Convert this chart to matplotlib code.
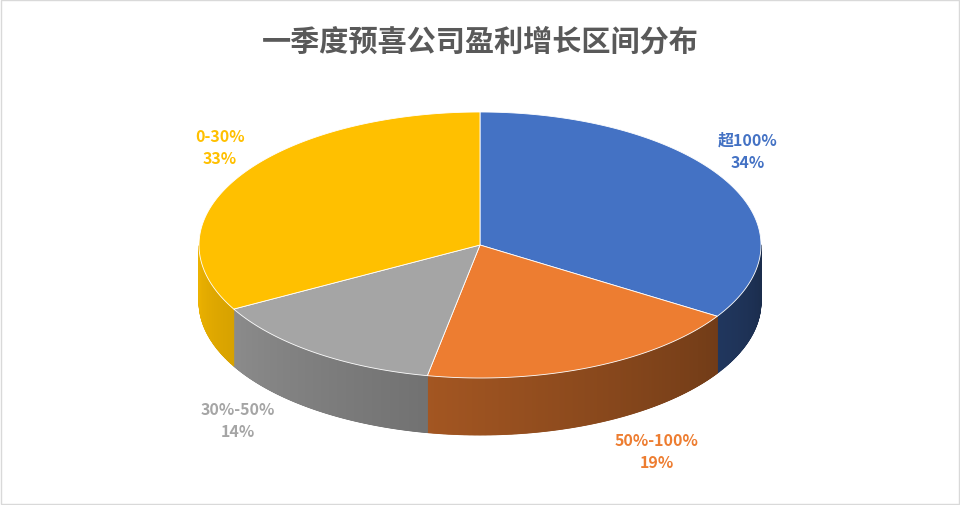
import numpy as np
import matplotlib.pyplot as plt
from matplotlib.patches import Polygon, Rectangle
from matplotlib.colors import to_rgb

plt.rcParams['font.family'] = ['Noto Sans CJK SC', 'DejaVu Sans']

title = "一季度预喜公司盈利增长区间分布"
categories = ["超100%", "50%-100%", "30%-50%", "0-30%"]
values = [34, 19, 14, 33]
colors = ["#4472C4", "#ED7D31", "#A5A5A5", "#FFC000"]
label_colors = ["#4472C4", "#ED7D31", "#A5A5A5", "#FFC000"]

W, H = 960, 506
fig = plt.figure(figsize=(9.6, 5.06), dpi=100)
ax = fig.add_axes([0, 0, 1, 1])
ax.set_xlim(0, W); ax.set_ylim(H, 0); ax.axis('off')
ax.add_patch(Rectangle((1, 1), W - 2, H - 2, fill=False, ec="#d9d9d9", lw=1))

cx, cy, rx, ry, depth = 480, 246, 281, 133, 57

def pt(t):
    r = np.radians(t)
    return cx + rx * np.cos(r), cy - ry * np.sin(r)

fr = np.array(values, float) / sum(values)
bounds = 90 - 360 * np.concatenate([[0], np.cumsum(fr)])

def shade(c, t):
    f = 0.38 + 0.55 * (-t / 180.0)
    return tuple(min(1, v * f) for v in to_rgb(c))

# side walls
for i, c in enumerate(colors):
    ts = np.linspace(bounds[i], bounds[i + 1], 400)
    for k in range(len(ts) - 1):
        lo, hi = ts[k + 1], ts[k]
        l = ((lo + 180) % 360) - 180
        h = l + (hi - lo)
        if not (l < 0 and h > -180):
            continue
        m = (l + h) / 2
        p1, p2 = pt(lo), pt(hi)
        poly = [p1, p2, (p2[0], p2[1] + depth), (p1[0], p1[1] + depth)]
        col = shade(c, m)
        ax.add_patch(Polygon(poly, closed=True, fc=col, ec=col, lw=0.6, zorder=1))

# top wedges
for i, c in enumerate(colors):
    ts = np.linspace(bounds[i], bounds[i + 1], 200)
    pts = [(cx, cy)] + [pt(t) for t in ts]
    ax.add_patch(Polygon(pts, closed=True, fc=c, ec="white", lw=0.6, zorder=2))

label_pos = [(748, 152), (657, 452), (238, 421), (220, 148)]
for (x, y), name, v, lc in zip(label_pos, categories, values, label_colors):
    ax.text(x, y, f"{name}\n{v}%", color=lc, fontsize=11.5, fontweight='bold',
            ha='center', va='center', linespacing=1.45, zorder=3)

ax.text(480, 42, title, fontsize=21, fontweight='bold', color="#595959",
        ha='center', va='center')

fig.savefig("out.png", dpi=100)
